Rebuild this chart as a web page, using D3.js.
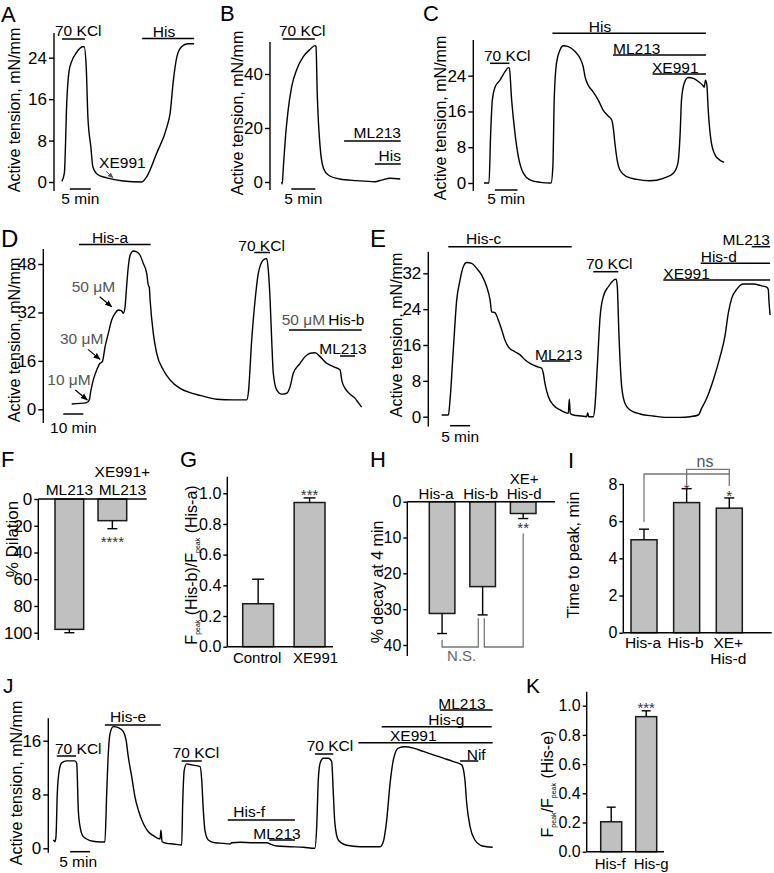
<!DOCTYPE html>
<html>
<head>
<meta charset="utf-8">
<script src="https://cdn.jsdelivr.net/npm/d3@7/dist/d3.min.js"></script>
<style>
html,body{margin:0;padding:0;background:#fff;}
svg{display:block;}
</style>
</head>
<body>
<script>
// ================= DATA =================
// Trace panels: [time (min), active tension (mN/mm)]
const traceA = [[0.2,0.1],[0.8,1.7],[1.4,15.9],[1.9,21.3],[2.5,23.2],[3.7,25.0],[5.2,26.1],[5.5,26.1],[6.0,22.3],[6.4,12.6],[7.1,6.8],[7.6,2.9],[8.8,1.4],[10.9,0.8],[14.8,0.2],[19.2,0],[20.4,1.0],[22.8,5.6],[25.2,10.6],[26.0,13.4],[26.7,19.2],[27.6,24.2],[28.7,26.1],[30.2,26.7],[31.7,26.7]];
const ticksA = [0,8,16,24];
const drugsA = [{label:"70 KCl",t0:0.24,t1:5.7},{label:"His",t0:19.3,t1:31.7}];
const scaleA = {label:"5 min",t0:2.1,len:5};
const noteA = {label:"XE991",t:12.4,v:0.8};

const traceB = [[0,0],[0.1,-0.8],[0.35,5.7],[0.8,17],[1.3,26],[2.08,35.3],[3.1,41.5],[4.5,46.4],[5.9,49.1],[6.9,50.5],[7.15,50.2],[7.4,33],[8.0,13.1],[8.7,5.1],[9.7,2.6],[12.1,1.1],[15.6,0.5],[19.4,0.1],[20.8,0.7],[22.6,1.4],[24.7,1.1]];
const ticksB = [0,20,40];
const drugsB = [{label:"70 KCl",t0:0.2,t1:6.9},{label:"ML213",t0:13.0,t1:24.8},{label:"His",t0:19.4,t1:24.8}];
const scaleB = {label:"5 min",t0:2.0,len:5};

const traceC = [[0,0],[1.1,0],[1.47,11.1],[1.84,18.6],[2.43,21.4],[3.53,23.0],[4.64,24.9],[5.37,25.8],[5.59,25.7],[6.1,18.6],[6.84,11.1],[7.58,5.9],[8.68,2.2],[10.15,0.7],[12.4,0.15],[14.8,0],[15.2,3.6],[15.5,18.6],[16.0,26.8],[16.8,29.8],[17.5,30.7],[18.6,30.5],[20.1,29.4],[21.2,27.9],[21.9,26.0],[22.3,23.8],[23.0,21.9],[24.1,20.4],[25.2,18.6],[26.3,16.3],[27.4,15.0],[28.2,14.1],[28.5,12.6],[28.9,8.9],[29.4,5.1],[30.0,2.9],[31.5,1.4],[33.7,0.8],[36.6,0.5],[39.6,1.05],[41.8,2.2],[42.8,4.4],[43.3,11.1],[43.6,18.6],[44.2,22.3],[45.1,23.6],[46.2,23.4],[47.3,22.7],[48.4,21.7],[48.6,21.4],[48.9,23.0],[49.2,21.9],[49.5,16.3],[50.1,9.6],[51.0,6.3],[52.1,5.1],[53.0,4.6]];
const ticksC = [0,8,16,24];
const drugsC = [{label:"70 KCl",t0:1.3,t1:5.6},{label:"His",t0:15.1,t1:49.0},{label:"ML213",t0:28.5,t1:49.0},{label:"XE991",t0:37.2,t1:49.0}];
const scaleC = {label:"5 min",t0:2.4,len:5};

const traceD = [[0,1.75],[7.5,2.2],[8.8,3.1],[9.5,5.8],[10.8,9.7],[12.5,13.0],[14.2,15.2],[15.3,15.7],[16.7,20.7],[18.3,25.1],[20.0,29.5],[21.7,31.7],[23.3,32.8],[25.0,32.5],[25.8,31.7],[26.7,33.9],[27.2,38.3],[28.3,47.1],[29.2,50.9],[30.8,52.3],[32.5,52.0],[34.2,50.9],[35.8,48.2],[37.5,44.9],[38.3,41.0],[38.8,40.3],[39.2,36.1],[40.8,25.1],[42.5,18.5],[45.8,13.0],[49.2,9.7],[54.2,6.9],[59.2,5.5],[64.2,4.6],[72.5,3.3],[80.8,3.1],[87.5,3.1],[88.3,5.3],[90.0,22.9],[91.7,36.1],[93.3,44.9],[95.8,49.3],[97.5,49.8],[98.3,46.0],[99.2,36.1],[100.0,22.9],[100.8,11.9],[102.5,6.4],[105.0,5.0],[107.5,5.3],[109.2,7.5],[110.8,11.9],[114.2,15.2],[116.7,17.4],[119.2,18.5],[121.7,18.7],[124.2,17.4],[127.5,15.2],[130.8,14.1],[134.2,13.0],[135.0,9.7],[136.7,6.9],[139.2,5.0],[141.7,3.6],[143.3,2.2],[145.0,0.7]];
const ticksD = [0,16,32,48];
const drugsD = [{label:"His-a",t0:3.65,t1:39.5},{label:"70 KCl",t0:91.3,t1:99.15},{label:"His-b",t0:108.65,t1:145.0},{label:"ML213",t0:134.15,t1:141.65}];
const scaleD = {label:"10 min",t0:-4.2,len:10};
const concD = [{label:"10 μM",t:7.8,v:3.1},{label:"30 μM",t:14.15,v:16.5},{label:"50 μM",t:20.0,v:33.9}];

const traceE = [[0,0.38],[1.67,0.38],[2.08,3.7],[2.9,14.9],[3.75,26.0],[4.58,30.5],[5.42,33.5],[6.25,34.4],[7.5,34.2],[8.75,33.1],[10.0,31.6],[11.25,29.0],[12.1,26.0],[12.5,23.4],[13.3,23.2],[14.15,21.6],[15.0,19.4],[15.8,17.1],[16.65,15.6],[18.3,14.5],[19.6,13.8],[20.8,12.7],[22.1,11.9],[23.75,11.2],[25.0,10.8],[25.4,9.7],[25.8,7.5],[26.65,4.5],[27.9,2.6],[29.6,1.5],[31.65,0.75],[31.9,3.9],[32.15,0.75],[32.9,0.38],[35.0,0.15],[36.25,0],[36.5,0.9],[36.75,0],[37.9,0],[38.3,2.2],[38.9,11.2],[39.6,22.3],[40.4,26.8],[41.65,29.0],[42.9,30.4],[43.6,30.7],[43.9,29.0],[44.3,18.6],[45.0,6.7],[45.8,3.0],[47.1,1.5],[49.6,0.6],[52.9,0.15],[56.25,-0.15],[59.6,-0.15],[62.1,0],[64.15,0.38],[65.0,1.9],[66.25,4.1],[67.9,8.2],[69.6,13.4],[70.8,17.9],[71.65,23.1],[72.5,26.4],[73.75,28.4],[75.4,29.6],[77.9,29.6],[80.0,29.2],[81.25,28.9],[81.65,28.4],[81.8,26.0],[82.1,22.7]];
const ticksE = [0,8,16,24,32];
const drugsE = [{label:"His-c",t0:1.65,t1:32.5},{label:"ML213",t0:25.0,t1:32.1},{label:"70 KCl",t0:37.9,t1:44.15},{label:"XE991",t0:55.4,t1:82.1},{label:"His-d",t0:64.75,t1:82.1},{label:"ML213",t0:77.5,t1:82.1}];
const scaleE = {label:"5 min",t0:2.1,len:5};

const traceJ = [[0,1.24],[0.42,0.98],[0.67,1.73],[1.0,8.2],[1.5,11.65],[2.1,12.7],[3.35,13.0],[5.4,13.0],[5.85,12.65],[6.25,5.7],[6.7,3.2],[7.5,1.73],[9.2,1.13],[10.85,0.98],[12.9,0.94],[13.35,8.2],[13.75,14.1],[14.2,17.1],[15.0,18.1],[16.25,17.95],[17.5,17.35],[18.2,16.1],[18.75,13.6],[19.6,10.65],[20.4,7.7],[21.25,5.7],[22.5,3.7],[23.75,2.47],[25.0,1.88],[26.7,1.38],[26.9,2.7],[27.2,0.98],[28.35,0.74],[30.0,0.64],[32.1,0.49],[32.35,6.7],[32.75,11.65],[33.35,12.55],[34.6,12.4],[36.7,12.15],[37.1,10.2],[37.5,5.7],[37.9,2.7],[38.75,1.24],[40.4,0.83],[42.5,0.74],[44.2,0.64],[44.6,0.83],[46.7,0.89],[50.0,0.83],[53.35,0.83],[54.2,0.64],[55.85,0.34],[59.2,0.24],[62.5,0.15],[65.4,0],[65.85,3.2],[66.25,10.2],[66.7,12.65],[67.5,13.4],[68.75,13.4],[69.6,12.9],[70.0,8.2],[70.4,3.7],[71.25,1.24],[73.35,0.45],[76.7,0.24],[81.7,0.24],[82.5,0.98],[83.35,4.2],[84.2,9.7],[85.0,13.1],[86.25,14.9],[87.9,15.1],[90.0,14.9],[92.5,14.4],[95.0,13.9],[97.5,13.4],[100.0,12.9],[102.1,12.4],[102.9,10.2],[103.35,6.7],[104.2,3.2],[105.4,1.24],[106.7,0.49],[108.35,0.24],[109.85,0.15]];
const ticksJ = [0,8,16];
const drugsJ = [{label:"70 KCl",t0:0.85,t1:5.7},{label:"His-e",t0:12.9,t1:26.85},{label:"70 KCl",t0:32.1,t1:37.1},{label:"His-f",t0:43.6,t1:60.4},{label:"ML213",t0:54.0,t1:60.4},{label:"70 KCl",t0:65.4,t1:70.0},{label:"XE991",t0:76.25,t1:109.85},{label:"His-g",t0:82.1,t1:109.6},{label:"ML213",t0:96.7,t1:109.85},{label:"Nif",t0:101.7,t1:106.25}];
const scaleJ = {label:"5 min",t0:4.2,len:5};

// Bar panels
const catsF = ["ML213","XE991+\nML213"];
const valsF = [97.5,16.2];
const errsF = [2.5,6.0];
const ticksF = [0,20,40,60,80,100];
const starsF = ["","****"];

const catsG = ["Control","XE991"];
const valsG = [0.28,0.94];
const errsG = [0.16,0.03];
const ticksG = [0.0,0.2,0.4,0.6,0.8,1.0];
const starsG = ["","***"];

const catsH = ["His-a","His-b","XE+\nHis-d"];
const valsH = [31.2,23.7,3.3];
const errsH = [5.6,7.9,1.4];
const ticksH = [0,10,20,30,40];
const starsH = ["","","**"];

const catsI = ["His-a","His-b","XE+\nHis-d"];
const valsI = [5.0,7.0,6.7];
const errsI = [0.57,0.75,0.55];
const ticksI = [0,2,4,6,8];
const starsI = ["","*","*"];

const catsK = ["His-f","His-g"];
const valsK = [0.205,0.925];
const errsK = [0.1,0.04];
const ticksK = [0.0,0.2,0.4,0.6,0.8,1.0];
const starsK = ["","***"];

// ================= DRAWING =================
const FONT = '"Liberation Sans", Arial, Helvetica, sans-serif';
const svg = d3.select("body").append("svg").attr("width",774).attr("height",873)
  .attr("font-family",FONT).style("background","#fff");

const defs = svg.append("defs");
function marker(id,color){
  defs.append("marker").attr("id",id).attr("viewBox","0 0 10 10").attr("refX",9).attr("refY",5)
    .attr("markerWidth",6).attr("markerHeight",6).attr("orient","auto-start-reverse")
    .append("path").attr("d","M0,1 L10,5 L0,9 Z").attr("fill",color);
}
marker("arrK","#000"); marker("arrG","#555");

function txt(g,x,y,s,o={}){
  return g.append("text").attr("x",x).attr("y",y).text(s)
    .attr("font-size",o.size||15.5).attr("text-anchor",o.anchor||"start").attr("fill",o.fill||"#000");
}
function hline(g,x1,x2,y,w=1.5,c="#000"){
  g.append("line").attr("x1",x1).attr("x2",x2).attr("y1",y).attr("y2",y).attr("stroke",c).attr("stroke-width",w);
}
function vline(g,x,y1,y2,w=1.5,c="#000"){
  g.append("line").attr("x1",x).attr("x2",x).attr("y1",y1).attr("y2",y2).attr("stroke",c).attr("stroke-width",w);
}
function ylabel(g,cx,cy,s,size=16){
  return g.append("text").attr("transform",`translate(${cx},${cy}) rotate(-90)`).attr("text-anchor","middle")
    .attr("dy","0.35em").attr("font-size",size).attr("fill","#000").text(s);
}
function letter(x,y,s,size=22){ txt(svg,x,y,s,{size:size}); }

function drawTrace(L, series, ticks, drugs, lay, scale){
  const g = svg.append("g");
  const x = d3.scaleLinear().domain([0,10]).range([L.x0, L.x0+10*L.ppm]);
  const y = d3.scaleLinear().domain([0,L.vRef]).range([L.y0,L.yRef]);
  const ag = g.append("g").attr("transform",`translate(${L.ax},0)`)
    .call(d3.axisLeft(y).tickValues(ticks).tickSize(5).tickPadding(2).tickFormat(d3.format("d")));
  ag.attr("font-family",FONT).attr("font-size",L.fs||17);
  ag.select(".domain").remove();
  ag.selectAll(".tick line").attr("stroke","#000").attr("stroke-width",1.4);
  ag.selectAll(".tick text").attr("fill","#000");
  vline(g,L.ax,L.axTop,L.axBot,1.4);
  g.append("path").datum(series)
    .attr("d",d3.line().x(d=>x(d[0])).y(d=>y(d[1])).curve(d3.curveMonotoneX))
    .attr("fill","none").attr("stroke","#000").attr("stroke-width",1.4).attr("stroke-linejoin","round");
  drugs.forEach((d,i)=>{
    const l = lay[i];
    hline(g,x(d.t0),x(d.t1),l.y,1.5);
    txt(g,l.tx,l.ty,d.label,{anchor:l.anchor||"start"});
  });
  const sx0 = x(scale.t0), sx1 = x(scale.t0+scale.len);
  hline(g,sx0,sx1,L.sbY,1.5);
  txt(g,(sx0+sx1)/2+(L.sbDx||0),L.sbTy,scale.label,{anchor:"middle"});
  ylabel(g,L.ylx,L.yly,"Active tension, mN/mm");
  return {g,x,y};
}

// ---- A ----
letter(1,22,"A");
const pA = drawTrace({x0:61,ppm:4.2,y0:182,vRef:24,yRef:57.7,ax:54,axTop:33,axBot:191,sbY:189,sbTy:204,ylx:14,yly:110},
  traceA,ticksA,drugsA,
  [{y:39,tx:55,ty:35.5},{y:38.5,tx:164,ty:37,anchor:"middle"}],scaleA);
{
  const tx = pA.x(noteA.t), ty = pA.y(noteA.v);
  txt(pA.g,tx-14,ty-10,noteA.label,{});
  pA.g.append("line").attr("x1",tx-7).attr("y1",ty-6.5).attr("x2",tx).attr("y2",ty)
    .attr("stroke","#555").attr("stroke-width",1).attr("marker-end","url(#arrG)");
}

// ---- B ----
letter(220,21,"B");
drawTrace({x0:281.7,ppm:4.8,y0:182,vRef:40,yRef:74,ax:270,axTop:42,axBot:190,sbY:189,sbTy:204,ylx:237,yly:113},
  traceB,ticksB,drugsB,
  [{y:39,tx:279,ty:36},{y:141,tx:401,ty:137.5,anchor:"end"},{y:164,tx:401,ty:160.5,anchor:"end"}],scaleB);

// ---- C ----
letter(423,21,"C");
drawTrace({x0:484,ppm:4.53,y0:183,vRef:24,yRef:75.7,ax:473.3,axTop:40,axBot:191,sbY:190,sbTy:204,ylx:440,yly:118},
  traceC,ticksC,drugsC,
  [{y:63.3,tx:484,ty:61},{y:33.3,tx:600,ty:31.5,anchor:"middle"},{y:55,tx:613,ty:53.5},{y:74,tx:652,ty:72.5}],scaleC);

// ---- D ----
letter(1,247,"D",24);
const pD = drawTrace({x0:71.7,ppm:2,y0:409.3,vRef:48,yRef:264,ax:43.3,axTop:249,axBot:423,sbY:414,sbTy:433,fs:17,ylx:14,yly:340},
  traceD,ticksD,drugsD,
  [{y:244.5,tx:110,ty:243,anchor:"middle"},{y:252.5,tx:238.3,ty:250.5},{y:330,tx:328.3,ty:325},{y:356,tx:319.3,ty:353.5}],scaleD);
txt(pD.g,281.7,325,"50 μM",{fill:"#555"});
concD.forEach(c=>{
  const tx = pD.x(c.t), ty = pD.y(c.v);
  txt(pD.g,tx-40,ty-15,c.label,{fill:"#555"});
  pD.g.append("line").attr("x1",tx-12).attr("y1",ty-10).attr("x2",tx).attr("y2",ty)
    .attr("stroke","#000").attr("stroke-width",1.2).attr("marker-end","url(#arrK)");
});

// ---- E ----
letter(370,247,"E",24);
drawTrace({x0:441.7,ppm:4,y0:416.7,vRef:32,yRef:273.3,ax:428.3,axTop:251.7,axBot:426.5,sbY:425.7,sbTy:441.5,fs:17,ylx:396,yly:335},
  traceE,ticksE,drugsE,
  [{y:246.7,tx:466,ty:243.5},{y:361,tx:535,ty:359.5},{y:271.7,tx:586,ty:268.5},{y:280,tx:663.3,ty:278.5},{y:263.3,tx:700.7,ty:261.5},{y:246.7,tx:770,ty:245,anchor:"end"}],scaleE);

// ---- J ----
letter(3,693,"J",21);
drawTrace({x0:53.3,ppm:4,y0:848.3,vRef:16,yRef:740.7,ax:48.3,axTop:718.3,axBot:852.7,sbY:851.7,sbTy:867,sbDx:-2,fs:17,ylx:16,yly:783},
  traceJ,ticksJ,drugsJ,
  [{y:756,tx:55,ty:754},{y:725,tx:110,ty:721.5},{y:761,tx:172.7,ty:758},{y:820,tx:233.3,ty:816.5},{y:840,tx:253.3,ty:838.5},{y:754,tx:306.7,ty:751},{y:742.7,tx:390,ty:741},{y:726.7,tx:428.3,ty:725},{y:710,tx:438.3,ty:708.5},{y:761,tx:466.7,ty:759.5}],scaleJ);

// ---------- bar panels ----------
function drawBars(L, cats, vals, errs, ticks, fmt, stars){
  const g = svg.append("g");
  const x = d3.scaleBand().domain(cats).range([L.bx0,L.bx1]).paddingInner(L.pad);
  const y = d3.scaleLinear().domain([0,L.vRef]).range([L.y0,L.yRef]);
  const bw = x.bandwidth();
  g.selectAll("rect").data(cats).join("rect")
    .attr("x",c=>x(c)).attr("width",bw)
    .attr("y",(c,i)=>Math.min(y(0),y(vals[i])))
    .attr("height",(c,i)=>Math.abs(y(vals[i])-y(0)))
    .attr("fill","#c0c0c0").attr("stroke","#1a1a1a").attr("stroke-width",1.5);
  cats.forEach((c,i)=>{
    const cx = x(c)+bw/2, y1 = y(vals[i]), y2 = y(vals[i]+errs[i]);
    vline(g,cx,y1,y2,1.4);
    hline(g,cx-L.cap/2,cx+L.cap/2,y2,1.4);
    if(stars[i]) txt(g,cx,L.starY[i],stars[i],{anchor:"middle",size:15,fill:"#333"});
    const lines = c.split("\n");
    const dx = L.catDx ? L.catDx[i] : 0;
    lines.forEach((s,j)=>{
      const yy = L.catTop ? L.catBase-(lines.length-1-j)*L.lineH : L.catBase+j*L.lineH;
      txt(g,cx+dx,yy,s,{anchor:"middle",size:L.catFs||15.5});
    });
  });
  const ag = g.append("g").attr("transform",`translate(${L.ax},0)`)
    .call(d3.axisLeft(y).tickValues(ticks).tickSize(4).tickPadding(2).tickFormat(d3.format(fmt)));
  ag.attr("font-family",FONT).attr("font-size",L.fs||16);
  ag.select(".domain").remove();
  ag.selectAll(".tick line").attr("stroke","#000").attr("stroke-width",1.4);
  ag.selectAll(".tick text").attr("fill","#000");
  vline(g,L.ax,L.axTop,L.axBot,1.4);
  hline(g,L.ax,L.xEnd,y(0),1.4);
  return {g,x,y};
}

// ---- F ----
letter(1,467,"F",22);
const pF = drawBars({bx0:55,bx1:126.7,pad:0.333,y0:499,vRef:100,yRef:632.7,ax:38.3,axTop:499,axBot:640,xEnd:146.7,cap:10,
  catTop:true,catBase:495,lineH:18,catDx:[0,10],catFs:15.5,starY:[0,547],fs:17},catsF,valsF,errsF,ticksF,"d",starsF);
ylabel(pF.g,12,539,"% Dilation",17);

// ---- G ----
letter(180,467,"G",22);
const pG = drawBars({bx0:242.7,bx1:325,pad:0.40,y0:646.7,vRef:1.0,yRef:493.3,ax:227.3,axTop:476.7,axBot:646.7,xEnd:333,cap:12,
  catTop:false,catBase:663,lineH:15,catDx:[-1,6],catFs:15,starY:[0,500]},catsG,valsG,errsG,ticksG,".1f",starsG);
{
  const t = pG.g.append("text").attr("transform","translate(191,565) rotate(-90)").attr("text-anchor","middle")
    .attr("dy","0.35em").attr("font-size",16).attr("fill","#000");
  t.append("tspan").text("F");
  t.append("tspan").attr("font-size",7).attr("dy",3).text("peak");
  t.append("tspan").attr("dy",-3).text(" (His-b)/F");
  t.append("tspan").attr("font-size",7).attr("dy",3).text("peak");
  t.append("tspan").attr("dy",-3).text(" (His-a)");
}

// ---- H ----
letter(370,467,"H",22);
const pH = drawBars({bx0:429.3,bx1:536,pad:0.369,y0:501.7,vRef:40,yRef:645,ax:407.3,axTop:501.7,axBot:656,xEnd:555,cap:10,
  catTop:true,catBase:499,lineH:15.5,catDx:[-6,-2,1],catFs:15,starY:[0,0,533]},catsH,valsH,errsH,ticksH,"d",starsH);
ylabel(pH.g,377,582,"% decay  at 4 min");
{
  const g = pH.g, x = pH.x, bw = x.bandwidth();
  const c0 = x(catsH[0])+bw/2, c2 = x(catsH[2])+bw/2;
  g.append("path").attr("d",`M${c0},640 V647 H478.3 V618.3`).attr("fill","none").attr("stroke","#777").attr("stroke-width",1.3);
  g.append("path").attr("d",`M484.3,618.3 V647 H${c2} V533.5`).attr("fill","none").attr("stroke","#777").attr("stroke-width",1.3);
  txt(g,461.7,661,"N.S.",{anchor:"middle",size:15,fill:"#666"});
}

// ---- I ----
letter(568,468,"I",22);
const pI = drawBars({bx0:631,bx1:742.3,pad:0.39,y0:632.7,vRef:8,yRef:484,ax:623.3,axTop:484,axBot:632.7,xEnd:771.7,cap:10,
  catTop:false,catBase:648,lineH:15.5,catDx:[-1,-1,-1],catFs:15.5,starY:[0,493.5,501]},catsI,valsI,errsI,ticksI,"d",starsI);
ylabel(pI.g,573,555,"Time to peak, min");
{
  const g = pI.g, x = pI.x, bw = x.bandwidth();
  const c0 = x(catsI[0])+bw/2, c1 = x(catsI[1])+bw/2, c2 = x(catsI[2])+bw/2;
  g.append("path").attr("d",`M${c0},521.7 V474 H${c2}`).attr("fill","none").attr("stroke","#777").attr("stroke-width",1.3);
  g.append("path").attr("d",`M${c1},484 V469.3 H${c2} V486`).attr("fill","none").attr("stroke","#777").attr("stroke-width",1.3);
  txt(g,705,467,"ns",{anchor:"middle",size:16,fill:"#555"});
}

// ---- K ----
letter(526,693,"K",21);
const pK = drawBars({bx0:600.7,bx1:656.7,pad:0.40,y0:851.7,vRef:1.0,yRef:705.7,ax:586.7,axTop:691.7,axBot:851.7,xEnd:664,cap:9,
  catTop:false,catBase:869,lineH:15,catDx:[-1,5],catFs:15,starY:[0,712.5]},catsK,valsK,errsK,ticksK,".1f",starsK);
{
  const t = pK.g.append("text").attr("transform","translate(547,784) rotate(-90)").attr("text-anchor","middle")
    .attr("dy","0.35em").attr("font-size",16).attr("fill","#000");
  t.append("tspan").text("F");
  t.append("tspan").attr("font-size",7).attr("dy",3).text("peak");
  t.append("tspan").attr("dy",-3).text("/F");
  t.append("tspan").attr("font-size",7).attr("dy",3).text("peak");
  t.append("tspan").attr("dy",-3).text(" (His-e)");
}
</script>
</body>
</html>
